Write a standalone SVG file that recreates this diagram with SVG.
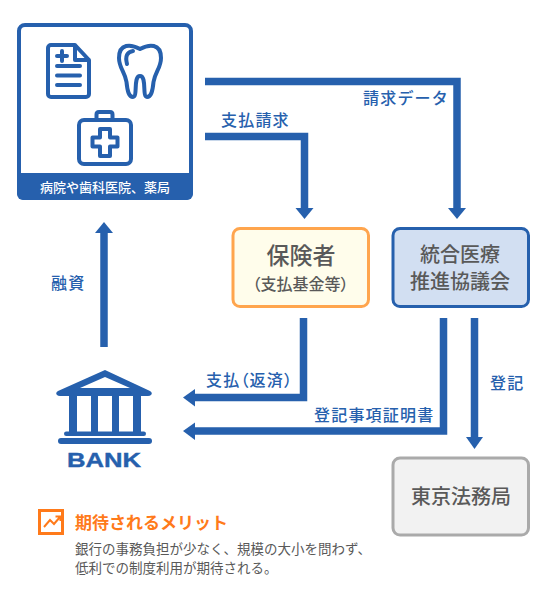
<svg xmlns="http://www.w3.org/2000/svg" width="550" height="600" viewBox="0 0 550 600">
<style>
text{font-family:"Noto Sans CJK JP","Noto Sans",sans-serif}
.lb{fill:#2660ad;font-size:16px;letter-spacing:1.200px;font-weight:500}
.nd{fill:#595959;font-size:20px;font-weight:500;text-anchor:middle}
.ln{fill:none;stroke:#2660ad;stroke-width:7.500}
.ic{fill:none;stroke:#2660ad;stroke-width:4;stroke-linejoin:round;stroke-linecap:round}
.hd{fill:#2660ad}
</style>
<g id="connectors">
<path class="ln" d="M205 81.500H457V208"/><path class="hd" d="M448 208H466L457 219Z"/>
<path class="ln" d="M205 136.500H304.500V208"/><path class="hd" d="M295.500 208H313.500L304.500 219Z"/>
<path class="ln" d="M104 347V232"/><path class="hd" d="M95 233H113L104 222Z"/>
<path class="ln" d="M303.500 318V397.500H194"/><path class="hd" d="M195 389V406.500L183 397.500Z"/>
<path class="ln" d="M443.500 318V431H194"/><path class="hd" d="M195 422.500V440L183 431Z"/>
<path class="ln" d="M474.500 318V438"/><path class="hd" d="M466 437H483L474.500 449Z"/>
</g>
<g id="labels">
<text class="lb" x="363" y="104">請求データ</text>
<text class="lb" x="221" y="126">支払請求</text>
<text class="lb" x="51" y="289">融資</text>
<text class="lb" x="206" y="386" style="font-feature-settings:'palt'">支払（返済）</text>
<text class="lb" x="314" y="421">登記事項証明書</text>
<text class="lb" x="490" y="389">登記</text>
</g>
<g id="node-hospital">
<rect x="19" y="25" width="172" height="173" rx="6" fill="#fff" stroke="#2660ad" stroke-width="4"/>
<path d="M17 173H193V194a6 6 0 0 1-6 6H23a6 6 0 0 1-6-6Z" fill="#2660ad"/>
<text x="105" y="192" fill="#fff" font-size="13" font-weight="500" text-anchor="middle">病院や歯科医院、薬局</text>
<path class="ic" d="M75 45H51a3 3 0 0 0-3 3V94a3 3 0 0 0 3 3H86a3 3 0 0 0 3-3V60ZM75 45V60H89"/>
<path class="ic" d="M57 56H67M62 51V61M57 66H80M57 75.500H80M57 85H80" stroke-width="3"/>
<path class="ic" d="M140 49C131 44 119 43 119 58C119 68 125 72 126.500 82C127.500 92 129 97 133 97C138 97 133 76 140 76C147 76 142 97 147 97C151 97 152.500 92 153.500 82C155 72 161 68 161 58C161 43 149 44 140 49ZM127 64C125 56 127 52 133 51" stroke-width="3.500"/>
<rect class="ic" x="79" y="120" width="52" height="44" rx="5"/>
<path class="ic" d="M96.500 120V114.500Q96.500 112 99 112H110Q112.500 112 112.500 114.500V120" stroke-width="3"/>
<path class="ic" d="M100 129H110V137.500H117.500V146.500H110V156H100V146.500H92.500V137.500H100Z" stroke-width="3"/>
</g>
<g id="node-insurer">
<rect x="233" y="228.500" width="135.500" height="78" rx="7" fill="#fffdeb" stroke="#ffa54d" stroke-width="3"/>
<text x="301" y="264" fill="#595959" font-size="23" font-weight="500" text-anchor="middle">保険者</text>
<text x="300.500" y="289.500" fill="#595959" font-size="16" font-weight="500" text-anchor="middle" style="font-feature-settings:'palt'">（支払基金等）</text>
</g>
<g id="node-council">
<rect x="393" y="228.500" width="135.500" height="78" rx="7" fill="#d2dff2" stroke="#2660ad" stroke-width="3"/>
<text class="nd"><tspan x="460" y="262">統合医療</tspan><tspan x="460" y="289">推進協議会</tspan></text>
</g>
<g id="node-registry">
<rect x="393" y="458" width="135.500" height="77" rx="7" fill="#f2f2f2" stroke="#aaa" stroke-width="3"/>
<text class="nd" x="461" y="504">東京法務局</text>
</g>
<g id="node-bank">
<path class="hd" fill-rule="evenodd" d="M105 370L150 391Q153 393 151 395Q150 396 148 396H60Q58 396 57 395Q55 393 58 391ZM105 377L80 388H130Z"/>
<path class="hd" d="M69 393H77V432H69ZM91 393H98V432H91ZM112 393H119V432H112ZM133 393H141V432H133Z"/>
<rect class="hd" x="64" y="431.500" width="82" height="4.500" rx="2.200"/>
<rect class="hd" x="58" y="438" width="94" height="6" rx="3"/>
<text x="67" y="467" textLength="74" lengthAdjust="spacingAndGlyphs" fill="#2660ad" stroke="#2660ad" stroke-width=".4" font-size="21" font-weight="700" style="font-family:'Liberation Sans',sans-serif">BANK</text>
</g>
<g id="benefit">
<rect x="39.500" y="510.500" width="23" height="23" fill="#fff" stroke="#ff7a1a" stroke-width="3"/>
<path d="M44 527L50 520L54 524L60 517M55.500 516.500H60.500V521" fill="none" stroke="#ff7a1a" stroke-width="2"/>
<text x="75" y="529" fill="#ff7a1a" font-size="17" font-weight="700">期待されるメリット</text>
<text x="75" y="554" fill="#595959" font-size="13.500"><tspan x="75" y="554">銀行の事務負担が少なく、規模の大小を問わず、</tspan><tspan x="75" y="573">低利での制度利用が期待される。</tspan></text>
</g>
</svg>
